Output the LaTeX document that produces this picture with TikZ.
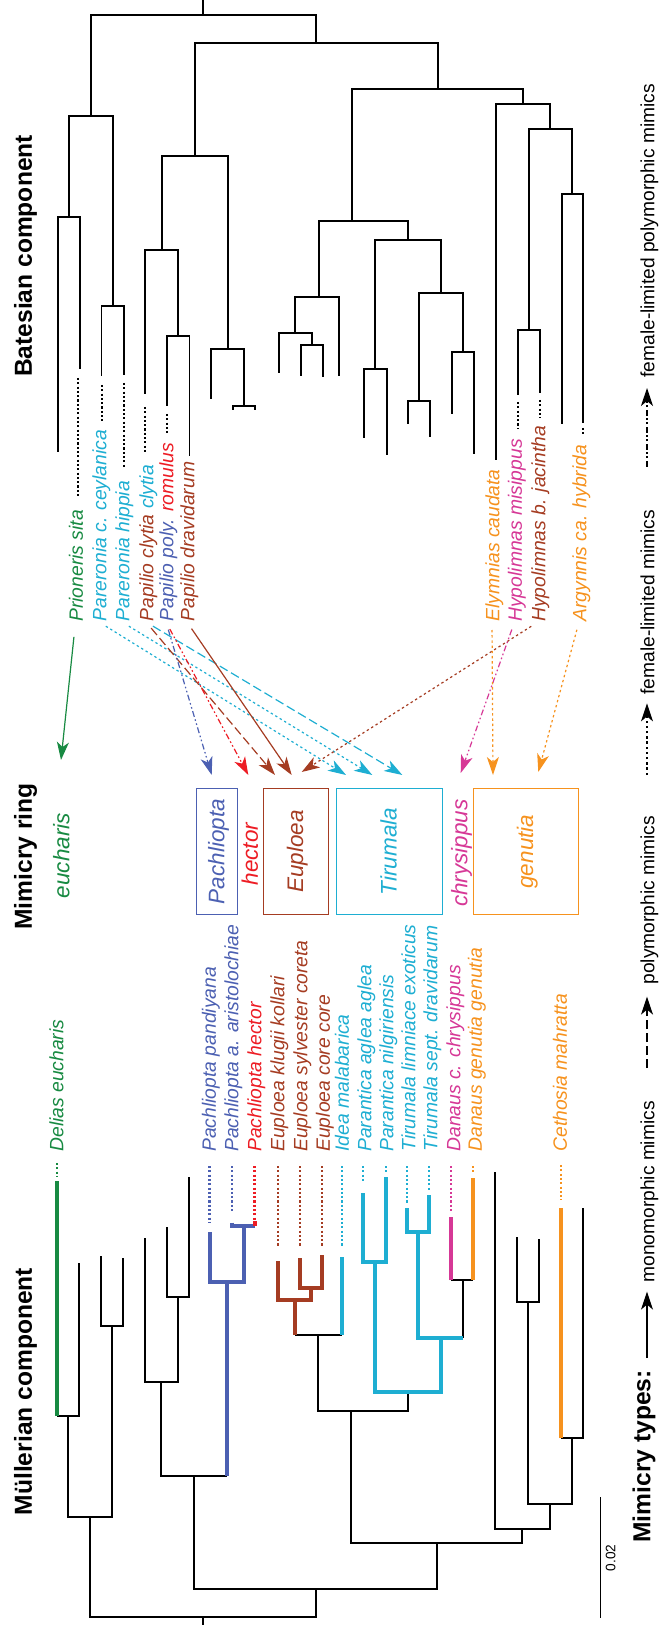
\documentclass[tikz,border=0pt]{standalone}
\usepackage{fontspec}
\setmainfont{Liberation Sans}
\usepackage{xcolor}
\usetikzlibrary{arrows.meta}

\definecolor{ringgreen}{RGB}{24,138,66}
\definecolor{ringblue}{RGB}{76,96,178}
\definecolor{ringred}{RGB}{237,28,36}
\definecolor{ringbrown}{RGB}{165,60,34}
\definecolor{ringcyan}{RGB}{30,174,210}
\definecolor{ringmagenta}{RGB}{214,56,150}
\definecolor{ringorange}{RGB}{246,146,30}

\begin{document}
\begin{tikzpicture}[
  x=0.5pt, y=-0.5pt,
  br/.style={line width=0.65pt},
  cl/.style={line width=1.7pt},
  dots/.style={line width=1.05pt, dash pattern=on 1.05pt off 1.1pt},
  sp/.style={rotate=90, anchor=west, inner sep=0pt, text height=1.38ex,
             text depth=0pt, font=\fontsize{9.65}{11}\selectfont\itshape},
  ringtxt/.style={rotate=90, inner sep=0pt, text height=1.38ex, text depth=0pt,
             font=\fontsize{11.25}{13}\selectfont\itshape},
  ringbox/.style={ringtxt, draw, line width=0.5pt, minimum width=63.35pt},
  hdr/.style={rotate=90, inner sep=0pt, text height=1.38ex, text depth=0pt,
             font=\fontsize{12.3}{14}\selectfont\bfseries},
  leg/.style={rotate=90, anchor=west, inner sep=0pt, text height=1.38ex,
             text depth=0pt, font=\fontsize{9.6}{11}\selectfont},
  mim/.style={line width=0.6pt, shorten <=4pt,
              -{Stealth[length=9pt,width=6pt,inset=2.5pt]}},
  poly/.style={dash pattern=on 4.5pt off 2pt},
  fem/.style={dash pattern=on 1.2pt off 1.4pt},
  fempoly/.style={dash pattern=on 3pt off 1.3pt on 0.8pt off 1.3pt on 0.8pt off 1.3pt}
]
\useasboundingbox (0,0) rectangle (659,1625);

% headers
\node[hdr] (hBat) at (24.5,256) {Batesian component};
\node[hdr] (hRing) at (24.5,856.5) {Mimicry ring};
\node[hdr] (hMul) at (24.5,1391.5) {Müllerian component};

% Batesian tree
\draw[br] (203,0) -- (203,15);
\foreach \xa/\ya/\xb/\yn/\yb in {91/116/316/15/43, 69/217/113/116/306,
    58/452/80/217/369, 101.7/376/124/306/375, 195/156/438/43/89,
    162/250/228/156/349, 145/394/178/250/336, 167/406/189.3/336/456,
    211/399/244/349/406, 233/410/255/406/410, 352/221/523/89/104,
    319/297/408/221/240, 295/333/339/297/376, 279/373/312/333/345,
    301/376/323/345/377, 375/369/441/240/293, 364/438/387/369/455,
    419/401/463/293/352, 408/424/430/401/437, 452/414/474/352/454,
    496/460/550/104/129, 529/330/572/129/194, 518/395/540/330/393,
    562/424/583/194/423}
  \draw[br] (\xa,\ya) |- (\xb,\yn) -- (\xb,\yb);
\foreach \x/\ya/\yb in {78/378/498, 102/385/422, 124/383/468, 145/407/454,
    167/414/435, 518/402/429, 540/400/418, 583/428/435}
  \draw[dots] (\x,\ya) -- (\x,\yb);

% Batesian taxa
\node[sp, ringgreen] (sita) at (75.5,622) {Prioneris sita};
\node[sp, ringcyan] (ceyl) at (99,622) {Pareronia c. ceylanica};
\node[sp, ringcyan] (hipp) at (122,622) {Pareronia hippia};
\node[sp, ringbrown] (clyt) at (146,622) {Papilio clytia \textcolor{ringcyan}{clytia}};
\node[sp, ringblue] (romu) at (166,622) {Papilio poly. \textcolor{ringred}{romulus}};
\node[sp, ringbrown] (drav) at (187,622) {Papilio dravidarum};
\node[sp, ringorange] (caud) at (492,622) {Elymnias caudata};
\node[sp, ringmagenta] (misi) at (514.5,622) {Hypolimnas misippus};
\node[sp, ringbrown] (jaci) at (538,622) {Hypolimnas b. jacintha};
\node[sp, ringorange] (hybr) at (579,622) {Argynnis ca. hybrida};

% mimicry rings
\node[ringtxt, ringgreen] (rEuch) at (62,855.5) {eucharis};
\node[ringbox, ringblue, minimum height=20.3pt] (rPach) at (217,851.6) {Pachliopta};
\node[ringtxt, ringred] (rHect) at (250.5,854) {hector};
\node[ringbox, ringbrown, minimum height=32.5pt] (rEupl) at (295.8,851.6) {Euploea};
\node[ringbox, ringcyan, minimum height=53pt] (rTiru) at (389.3,851.6) {Tirumala};
\node[ringtxt, ringmagenta] (rChry) at (460,853) {chrysippus};
\node[ringbox, ringorange, minimum height=52.65pt] (rGenu) at (525.7,851.6) {genutia};

\coordinate (aEuch) at (61,760);
\coordinate (aPach) at (211.7,775);
\coordinate (aHect) at (248.3,775);
\coordinate (aEup1) at (275,775);
\coordinate (aEup2) at (291.7,775);
\coordinate (aEup3) at (301.7,772);
\coordinate (aTir1) at (346,775);
\coordinate (aTir2) at (372.3,775);
\coordinate (aTir3) at (402.3,775);
\coordinate (aChry) at (460.7,773);
\coordinate (aGen1) at (493,775);
\coordinate (aGen2) at (538.3,772);

\draw[mim, ringgreen, shorten <=7.5pt] (sita.west) -- (aEuch);
\draw[mim, fem, ringcyan] (ceyl.west) -- (aTir1);
\draw[mim, fem, ringcyan] (hipp.west) -- (aTir2);
\draw[mim, poly, ringcyan] (clyt.west) -- (aTir3);
\draw[mim, poly, ringbrown] (clyt.west) -- (aEup1);
\draw[mim, fempoly, ringblue] (romu.west) -- (aPach);
\draw[mim, fempoly, ringred] (romu.west) -- (aHect);
\draw[mim, ringbrown] (drav.west) -- (aEup2);
\draw[mim, fem, ringbrown] (jaci.west) -- (aEup3);
\draw[mim, fempoly, ringmagenta] (misi.west) -- (aChry);
\draw[mim, fem, ringorange] (caud.west) -- (aGen1);
\draw[mim, fem, ringorange] (hybr.west) -- (aGen2);

% Muellerian taxa
\node[sp, ringgreen] (deli) at (56,1152) {Delias eucharis};
\node[sp, ringblue] (pand) at (208.5,1152) {Pachliopta pandiyana};
\node[sp, ringblue] (aris) at (231,1152) {Pachliopta a. aristolochiae};
\node[sp, ringred] (hect) at (254,1152) {Pachliopta hector};
\node[sp, ringbrown] (klug) at (277,1152) {Euploea klugii kollari};
\node[sp, ringbrown] (sylv) at (300,1152) {Euploea sylvester coreta};
\node[sp, ringbrown] (core) at (322.5,1152) {Euploea core core};
\node[sp, ringcyan] (idea) at (341.5,1152) {Idea malabarica};
\node[sp, ringcyan] (agle) at (364,1152) {Parantica aglea aglea};
\node[sp, ringcyan] (nilg) at (386,1152) {Parantica nilgiriensis};
\node[sp, ringcyan] (limn) at (408,1152) {Tirumala limniace exoticus};
\node[sp, ringcyan] (sept) at (430,1152) {Tirumala sept. dravidarum};
\node[sp, ringmagenta] (chry) at (453,1152) {Danaus c. chrysippus};
\node[sp, ringorange] (genu) at (474.5,1152) {Danaus genutia genutia};
\node[sp, ringorange] (ceth) at (559.5,1152) {Cethosia mahratta};

% Muellerian tree
\draw[br] (203,1625) -- (203,1617);
\foreach \xa/\ya/\xb/\yn/\yb in {90/1517/316/1617/1589, 68/1416/112/1517/1326,
    57/1416/79/1416/1263, 101/1256/123/1326/1258, 194/1476/437/1589/1543,
    161/1382/227/1476/1476, 145/1238/178/1382/1297, 167/1227/189/1297/1177,
    351/1411/522/1543/1529, 318/1335/408/1411/1392, 295/1335/342/1335/1335,
    495/1172/550/1529/1504, 528/1302/572/1504/1438, 517/1237/539/1302/1239,
    561/1438/583/1438/1208}
  \draw[br] (\xa,\ya) |- (\xb,\yn) -- (\xb,\yb);
\draw[br] (463,1338) -- (463,1280);
\draw[br] (451,1280) -- (473,1280);

\draw[cl, ringgreen] (57,1181) -- (57,1416);
\draw[cl, ringblue] (227,1476) -- (227,1282);
\draw[cl, ringblue] (210,1232) |- (244,1282) -- (244,1226);
\draw[cl, ringblue] (232,1222.7) |- (255,1226);
\draw[cl, ringred] (255,1226) -- (255,1220.5);
\draw[cl, ringbrown] (295,1335) -- (295,1300);
\draw[cl, ringbrown] (278,1261) |- (311,1300) -- (311,1288);
\draw[cl, ringbrown] (300,1258) |- (322,1288) -- (322,1255);
\draw[cl, ringcyan] (342,1335) -- (342,1257);
\draw[cl, ringcyan] (375,1262) |- (441,1392) -- (441,1338);
\draw[cl, ringcyan] (363,1193) |- (386,1262) -- (386,1177);
\draw[cl, ringcyan] (418,1232) |- (463,1338);
\draw[cl, ringcyan] (407,1208) |- (429,1232) -- (429,1195);
\draw[cl, ringmagenta] (451,1280) -- (451,1217);
\draw[cl, ringorange] (473,1280) -- (473,1178);
\draw[cl, ringorange] (561,1438) -- (561,1208);

\foreach \x/\ya/\yb/\c in {57/1163/1176/ringgreen, 209.5/1166/1222/ringblue,
    232/1166/1212/ringblue, 254.5/1166/1221/ringred, 278/1166/1246/ringbrown,
    300/1166/1246/ringbrown, 322/1166/1246/ringbrown, 342/1166/1246/ringcyan,
    363/1166/1182/ringcyan, 386/1166/1172/ringcyan, 407/1166/1203/ringcyan,
    429/1166/1190/ringcyan, 451/1166/1213/ringmagenta, 473/1166/1172/ringorange,
    561/1165/1200/ringorange}
  \draw[dots, color=\c] (\x,\ya) -- (\x,\yb);

% scale bar
\draw[br] (600.7,1497) -- (600.7,1618);
\node[rotate=90, inner sep=0pt, font=\fontsize{6.85}{8}\selectfont] (scl) at (610.7,1558) {0.02};

% legend
\node[hdr, anchor=west] (lTypes) at (643,1543) {Mimicry types:};
\node[leg] (lMono) at (647,1283) {monomorphic mimics};
\node[leg] (lPoly) at (647,985) {polymorphic mimics};
\node[leg] (lFem) at (647,695) {female-limited mimics};
\node[leg] (lFemPoly) at (647,378) {female-limited polymorphic mimics};
\coordinate (sMono) at (647,1358);
\coordinate (sPoly) at (647,1068);
\coordinate (sFem) at (647,775);
\coordinate (sFemPoly) at (647,466.7);
\draw[mim, shorten <=0pt, shorten >=4.3pt] (sMono) -- (lMono.west);
\draw[mim, poly, shorten <=0pt, shorten >=5.8pt] (sPoly) -- (lPoly.west);
\draw[mim, fem, shorten <=0pt, shorten >=4.2pt] (sFem) -- (lFem.west);
\draw[mim, fempoly, shorten <=0pt, shorten >=5pt] (sFemPoly) -- (lFemPoly.west);
\end{tikzpicture}
\end{document}
